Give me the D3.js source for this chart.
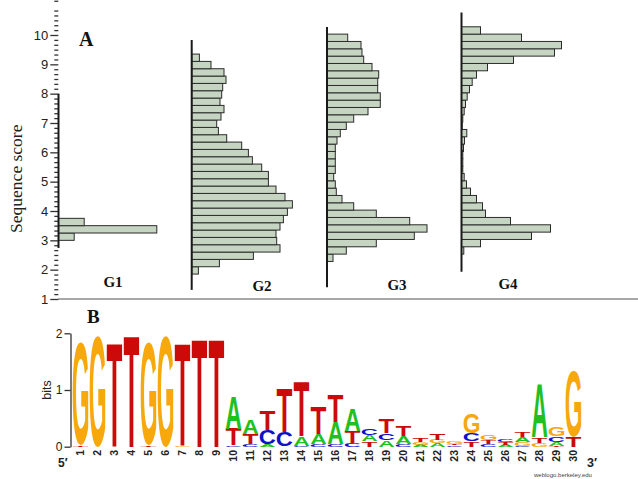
<!DOCTYPE html>
<html><head><meta charset="utf-8">
<script src="https://cdn.jsdelivr.net/npm/d3@7"></script>
<style>body{margin:0;background:#fff}</style>
</head><body>
<svg id="c" width="638" height="479"></svg>
<script>
// ================= Panel A data =================
const groups = ["G1", "G2", "G3", "G4"];
const binWidth = 0.25;
// lowest bin edge of each group (sequence score)
const binStarts = [3.0, 1.85, 2.28, 2.53];
// relative frequency (% of group maximum), ascending score order
const g1Freq = [15.7, 98.3, 25.7];
const g2Freq = [6.7, 27.7, 61.7, 88.3, 85, 84.3, 88.3, 91.7, 95.7, 100.7, 93.3, 84.3, 76.7, 76.7, 70, 60.7, 56.7, 50, 35, 26.7, 25, 29.3, 32.3, 28.3, 30, 31, 34.3, 32.3, 19.3, 7.7];
const g3Freq = [6, 19.3, 49.3, 87.3, 100, 82.7, 49.3, 26.7, 15, 9.3, 8.3, 6.7, 8.3, 8.3, 8.3, 8.3, 10, 13.3, 19.3, 26.7, 41, 53.3, 53.3, 50.7, 50.7, 51.7, 45, 36.7, 35, 34, 20.7];
const g4Freq = [2.3, 19, 70, 89, 49, 24, 21, 15, 9, 5, 2.7, 1.3, 1.3, 1.3, 2, 3, 5.3, 0.7, 1.3, 2.7, 4, 5.7, 8, 10.7, 15, 26, 52, 93, 100, 60, 19];
const scoreTicks = [1, 2, 3, 4, 5, 6, 7, 8, 9, 10];

// ================= Panel B data (bits per nucleotide, positions 1..30) =================
const positions = d3.range(1, 31);
const bitsA = [0,0,0,0,0,0,0,0,0, 0.56,0.24,0.04,0,0.16,0.19,0.38,0.38,0.105,0.115,0.13,0.035,0.06,0,0,0,0.035,0.09,0.94,0.06,0];
const bitsC = [0,0,0,0,0,0,0,0,0, 0.03,0.04,0.25,0.26,0.02,0.04,0.05,0.06,0.12,0.125,0.05,0,0,0.025,0.14,0.05,0.05,0.02,0,0.1,0];
const bitsG = [1.82,1.96,0,0,1.82,1.96,0.01,0,0, 0,0,0,0,0,0,0,0,0,0,0,0.04,0.06,0.035,0.34,0.08,0,0.06,0.07,0.15,1.15];
const bitsT = [0.02,0,1.83,1.97,0.02,0,1.82,1.89,1.89, 0.29,0.18,0.35,0.77,0.97,0.47,0.47,0.21,0.095,0.26,0.19,0.055,0.11,0.03,0.09,0.06,0.045,0.1,0.1,0.02,0.18];
const bitTicks = [0, 1, 2];

// ================= drawing =================
const svg = d3.select("#c");
const sans = "Liberation Sans, Arial, sans-serif";
const serif = "Liberation Serif, Times New Roman, serif";

// ---- Panel A ----
const y = d3.scaleLinear().domain([1, 10]).range([299, 35]);
const len = d3.scaleLinear().domain([0, 100]).range([0, 100]);
const gx = d3.scaleOrdinal(groups, [58.5, 191.7, 327, 461.5]);
const freqs = [g1Freq, g2Freq, g3Freq, g4Freq];
const baseExt = [[2.74, 8.0], [1.31, 9.83], [1.4, 10.27], [1.93, 10.77]];
const labelPos = [[113, 287], [262, 291], [397, 290], [508, 289]];

// bottom axis line
svg.append("line").attr("x1", 58).attr("x2", 638).attr("y1", y(1)).attr("y2", y(1))
  .attr("stroke", "#8a8a8a").attr("stroke-width", 1.6);

// minor ticks
const minor = d3.range(0, 65).filter(i => i % 6 !== 0).map(i => 1 + i / 6);
const minorAxis = svg.append("g").attr("transform", "translate(58.3,0)")
  .call(d3.axisLeft(y).tickValues(minor).tickSize(4).tickFormat(""));
minorAxis.select(".domain").remove();
minorAxis.selectAll("line").attr("stroke", "#333").attr("stroke-width", 1.3);

const majorAxis = svg.append("g").attr("transform", "translate(58.3,0)")
  .call(d3.axisLeft(y).tickValues(scoreTicks).tickSize(8).tickPadding(2).tickFormat(d3.format("d")));
majorAxis.select(".domain").remove();
majorAxis.selectAll("line").attr("stroke", "#333").attr("stroke-width", 1.3);
majorAxis.selectAll("text").attr("font-family", sans).attr("font-size", 13).attr("fill", "#222");

// y label
svg.append("text").attr("transform", `translate(22,${(y(3.2)+y(7))/2}) rotate(-90)`)
  .attr("text-anchor", "middle").attr("font-family", serif).attr("font-size", 17.5)
  .attr("fill", "#222").text("Sequence score");

svg.append("text").attr("x", 79).attr("y", 46).attr("font-family", serif).attr("font-weight", "bold")
  .attr("font-size", 20).attr("fill", "#111").text("A");

groups.forEach((g, gi) => {
  const bx = gx(g);
  const data = freqs[gi].map((v, i) => ({ lo: binStarts[gi] + i * binWidth, hi: binStarts[gi] + (i + 1) * binWidth, v }));
  svg.append("g").selectAll("rect").data(data).join("rect")
    .attr("x", bx).attr("y", d => y(d.hi)).attr("height", d => y(d.lo) - y(d.hi))
    .attr("width", d => len(d.v))
    .attr("fill", "#c6d5c1").attr("stroke", "#2b2b2b").attr("stroke-width", 1);
  svg.append("line").attr("x1", bx).attr("x2", bx)
    .attr("y1", y(baseExt[gi][0])).attr("y2", y(baseExt[gi][1]))
    .attr("stroke", "#1a1a1a").attr("stroke-width", 2);
  svg.append("text").attr("x", labelPos[gi][0]).attr("y", labelPos[gi][1])
    .attr("text-anchor", "middle").attr("font-family", serif).attr("font-weight", "bold")
    .attr("font-size", 15).attr("fill", "#111").text(g);
});

// ---- Panel B ----
const yb = d3.scaleLinear().domain([0, 2]).range([446.7, 333.3]);
const xb = d3.scaleLinear().domain([1, 30]).range([80.5, 573.5]);
const letterW = 15.6;

svg.append("text").attr("x", 87).attr("y", 323).attr("font-family", serif).attr("font-weight", "bold")
  .attr("font-size", 19).attr("fill", "#111").text("B");

const bAxis = svg.append("g").attr("transform", "translate(70.5,0)")
  .call(d3.axisLeft(yb).tickValues(bitTicks).tickSize(6).tickSizeOuter(0).tickPadding(2).tickFormat(d3.format("d")));
bAxis.selectAll("line, path").attr("stroke", "#333").attr("stroke-width", 1.3);
bAxis.selectAll("text").attr("font-family", sans).attr("font-size", 12).attr("fill", "#222");

svg.append("text").attr("transform", "translate(51,390) rotate(-90)").attr("text-anchor", "middle")
  .attr("font-family", sans).attr("font-size", 12.5).attr("fill", "#222").text("bits");

const colors = { A: "#1fc01f", C: "#1010c8", G: "#f7a80d", T: "#cc0a0a" };
const letterFont = "bold 100px 'Liberation Sans'";
const ctx = document.createElement("canvas").getContext("2d");
ctx.font = letterFont;
const metrics = {};
["A", "C", "G", "T"].forEach(l => {
  const m = ctx.measureText(l);
  metrics[l] = { L: m.actualBoundingBoxLeft, R: m.actualBoundingBoxRight, asc: m.actualBoundingBoxAscent, desc: m.actualBoundingBoxDescent };
});

const stacks = positions.map((p, i) => {
  const items = [["A", bitsA[i]], ["C", bitsC[i]], ["G", bitsG[i]], ["T", bitsT[i]]]
    .filter(d => d[1] > 0).sort((a, b) => a[1] - b[1]);
  let acc = 0;
  return items.map(([l, h]) => { const r = { pos: p, l, lo: acc, hi: acc + h }; acc += h; return r; });
}).flat();

svg.append("g").selectAll("text").data(stacks).join("text")
  .attr("font-family", "Liberation Sans").attr("font-weight", "bold").attr("font-size", 100)
  .attr("fill", d => colors[d.l])
  .attr("transform", d => {
    const m = metrics[d.l];
    const h = yb(d.lo) - yb(d.hi);
    const sx = letterW / (m.L + m.R), sy = h / (m.asc + m.desc);
    return `translate(${xb(d.pos) - letterW / 2},${yb(d.hi)}) scale(${sx},${sy}) translate(${m.L},${m.asc})`;
  })
  .text(d => d.l);

// position labels
svg.append("g").selectAll("text").data(positions).join("text")
  .attr("transform", d => `translate(${xb(d) + 3.8},450) rotate(-90)`)
  .attr("text-anchor", "end").attr("font-family", sans).attr("font-weight", "bold")
  .attr("font-size", 10.5).attr("fill", "#222").text(d => d);

svg.append("text").attr("x", 58).attr("y", 467).attr("font-family", sans).attr("font-weight", "bold")
  .attr("font-size", 12).attr("fill", "#222").text("5′");
svg.append("text").attr("x", 587).attr("y", 467).attr("font-family", sans).attr("font-weight", "bold")
  .attr("font-size", 12.5).attr("fill", "#222").text("3′");
svg.append("text").attr("x", 563).attr("y", 477).attr("text-anchor", "middle").attr("font-family", sans)
  .attr("font-size", 6).attr("fill", "#444").text("weblogo.berkeley.edu");
</script>
</body></html>
